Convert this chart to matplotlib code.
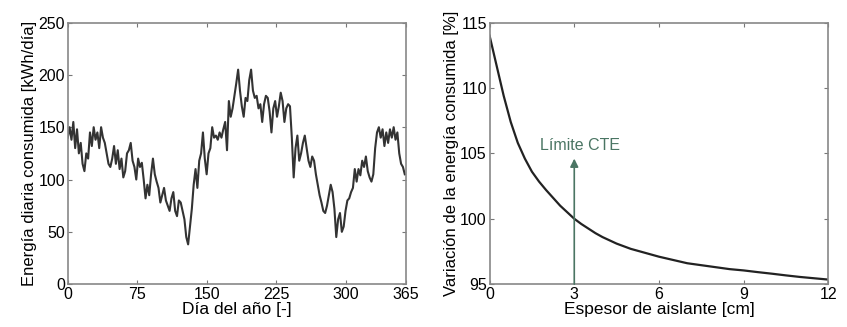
import numpy as np
import matplotlib
matplotlib.use("Agg")
import matplotlib.pyplot as plt

plt.rcParams['font.family'] = ['Liberation Sans', 'DejaVu Sans']

# Energía diaria consumida (lectura cada 2 días)
dias = np.arange(0, 365, 2)
energia = [140, 150, 138, 155, 130, 148, 125, 135, 115, 108,
           125, 120, 145, 132, 150, 138, 145, 130, 150, 140,
           135, 125, 115, 112, 120, 132, 115, 128, 110, 120,
           102, 108, 125, 128, 135, 118, 112, 100, 120, 112,
           116, 100, 82, 95, 85, 105, 120, 105, 98, 92,
           78, 85, 92, 80, 75, 70, 82, 88, 70, 65,
           80, 78, 70, 62, 45, 38, 55, 72, 95, 110,
           92, 118, 125, 145, 120, 105, 125, 130, 150, 140,
           142, 138, 145, 140, 148, 155, 128, 175, 160, 168,
           180, 192, 205, 185, 170, 160, 178, 175, 195, 205,
           185, 178, 180, 168, 172, 155, 172, 180, 178, 165,
           145, 168, 175, 160, 170, 183, 175, 155, 168, 172,
           170, 140, 102, 130, 142, 118, 125, 135, 142, 130,
           118, 112, 122, 118, 105, 95, 85, 78, 70, 68,
           75, 85, 95, 88, 72, 45, 62, 68, 50, 55,
           70, 80, 82, 88, 92, 110, 98, 110, 104, 118,
           112, 122, 108, 102, 98, 105, 130, 145, 150, 140,
           148, 132, 145, 135, 148, 140, 150, 138, 145, 125,
           115, 112, 105]

# Variación de la energía frente al espesor de aislante
espesor = [0, 0.25, 0.5, 0.75, 1, 1.25, 1.5, 1.75, 2, 2.25, 2.5, 2.75,
           3, 3.25, 3.5, 3.75, 4, 4.5, 5, 5.5, 6, 6.5, 7, 7.5, 8, 8.5,
           9, 9.5, 10, 10.5, 11, 11.5, 12]
variacion = [114.0, 111.7, 109.4, 107.4, 105.8, 104.6, 103.6, 102.85,
             102.2, 101.6, 101.0, 100.5, 100.0, 99.6, 99.25, 98.9, 98.6,
             98.1, 97.7, 97.4, 97.1, 96.85, 96.6, 96.45, 96.3, 96.15,
             96.05, 95.92, 95.8, 95.67, 95.55, 95.45, 95.35]

espesor_cte = 3
verde = '#4a7563'

fig = plt.figure(figsize=(8.47, 3.27), dpi=100)
ax1 = fig.add_axes([0.080, 0.131, 0.399, 0.800])
ax2 = fig.add_axes([0.578, 0.131, 0.400, 0.800])

# Grafico 1
ax1.plot(dias, energia, color='#333333', lw=1.5)
ax1.set_xlim(0, 365)
ax1.set_ylim(0, 250)
ax1.set_xticks([0, 75, 150, 225, 300, 365])
ax1.set_yticks([0, 50, 100, 150, 200, 250])
ax1.set_xlabel("Día del año [-]", fontsize=12.5, labelpad=0)
ax1.set_ylabel("Energía diaria consumida [kWh/día]", fontsize=12, labelpad=1)

# Grafico 2
ax2.plot(espesor, variacion, color='#222222', lw=1.6)
ax2.annotate("", xy=(espesor_cte, 104.6), xytext=(espesor_cte, 95),
             arrowprops=dict(arrowstyle='-|>', color=verde, lw=1.2,
                             mutation_scale=12, shrinkA=0, shrinkB=0))
ax2.text(3.2, 105.6, "Límite CTE", color=verde, fontsize=11.5,
         ha='center', va='center')
ax2.set_xlim(0, 12)
ax2.set_ylim(95, 115)
ax2.set_xticks([0, 3, 6, 9, 12])
ax2.set_yticks([95, 100, 105, 110, 115])
ax2.set_xlabel("Espesor de aislante [cm]", fontsize=12.5, labelpad=0)
ax2.set_ylabel("Variación de la energía consumida [%]", fontsize=12, labelpad=1)

for ax in (ax1, ax2):
    ax.tick_params(direction='in', top=True, right=True, length=3,
                   labelsize=11.5, color='#777777', pad=2)
    for s in ax.spines.values():
        s.set_color('#888888')
        s.set_linewidth(1.2)

fig.savefig("out.png", dpi=100)
